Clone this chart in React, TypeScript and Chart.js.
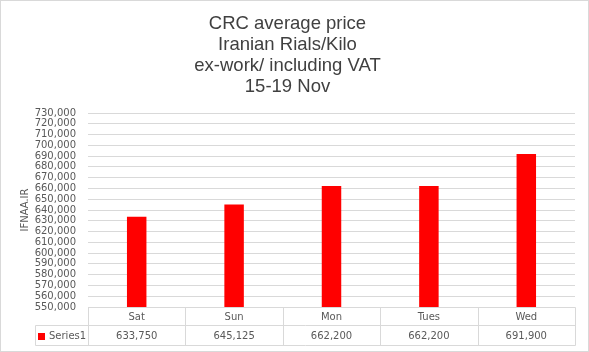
import React, { useEffect, useRef } from 'react';
import { Chart, registerables } from 'chart.js';

Chart.register(...registerables);

const titleLines = ['CRC average price', 'Iranian Rials/Kilo', 'ex-work/ including VAT', '15-19 Nov'];
const categories = ['Sat', 'Sun', 'Mon', 'Tues', 'Wed'];
const seriesName = 'Series1';
const series1Values = [633750, 645125, 662200, 662200, 691900];
const yAxisTitle = 'IFNAA.IR';
const yMin = 550000;
const yMax = 730000;
const yStep = 10000;

const fmt = (v: number) => Number(v).toLocaleString('en-US');

const TICK_FONT = 'DejaVu Sans';
const GRID = '#d9d9d9';
const TEXT = '#595959';
const BAR = '#ff0000';

const tablePlugin = {
  id: 'dataTable',
  beforeDraw(chart: any) {
    const ctx = chart.ctx;
    ctx.save();
    ctx.fillStyle = '#ffffff';
    ctx.fillRect(0, 0, chart.width, chart.height);
    ctx.strokeStyle = GRID;
    ctx.lineWidth = 1;
    ctx.strokeRect(0.5, 0.5, chart.width - 1, chart.height - 1);
    ctx.restore();
  },
  afterDraw(chart: any) {
    const { ctx, chartArea } = chart;
    const xs = chart.scales.x;
    const n = chart.data.labels.length;
    const left = chartArea.left;
    const right = chartArea.right;
    const colW = (right - left) / n;
    const top = Math.round(chartArea.bottom) + 0.5;
    const mid = top + 18;
    const bot = top + 38;
    const legLeft = 35.5;
    const L = (x: number) => Math.round(x) + 0.5;

    ctx.save();
    ctx.strokeStyle = GRID;
    ctx.lineWidth = 1;
    ctx.beginPath();
    ctx.moveTo(L(left), top);
    ctx.lineTo(L(right), top);
    ctx.moveTo(legLeft, mid);
    ctx.lineTo(L(right), mid);
    ctx.moveTo(legLeft, bot);
    ctx.lineTo(L(right), bot);
    ctx.moveTo(legLeft, mid);
    ctx.lineTo(legLeft, bot);
    for (let i = 0; i <= n; i++) {
      const x = L(left + i * colW);
      ctx.moveTo(x, top);
      ctx.lineTo(x, bot);
    }
    ctx.stroke();

    ctx.fillStyle = TEXT;
    ctx.font = `10px "${TICK_FONT}"`;
    ctx.textAlign = 'center';
    ctx.textBaseline = 'middle';
    const ds = chart.data.datasets[0];
    for (let i = 0; i < n; i++) {
      const cx = xs.getPixelForValue(i);
      ctx.fillText(String(chart.data.labels[i]), cx, (top + mid) / 2 + 1);
      ctx.fillText(fmt(ds.data[i]), cx, (mid + bot) / 2 + 1);
    }
    ctx.fillStyle = BAR;
    ctx.fillRect(38, Math.round((mid + bot) / 2) - 3, 7, 7);
    ctx.fillStyle = TEXT;
    ctx.textAlign = 'left';
    ctx.fillText(ds.label, 49, (mid + bot) / 2 + 1);
    ctx.restore();
  },
};

export default function App() {
  const ref = useRef<HTMLCanvasElement | null>(null);

  useEffect(() => {
    if (!ref.current) return;
    const chart = new Chart(ref.current, {
      type: 'bar',
      data: {
        labels: categories,
        datasets: [
          {
            label: seriesName,
            data: series1Values,
            backgroundColor: BAR,
            borderWidth: 0,
            categoryPercentage: 1,
            barPercentage: 0.2,
          },
        ],
      },
      options: {
        responsive: false,
        animation: false,
        devicePixelRatio: 1,
        layout: { padding: { left: 0, right: 14, top: 0, bottom: 0 } },
        plugins: {
          legend: { display: false },
          tooltip: { enabled: false },
          title: {
            display: true,
            text: titleLines,
            color: '#404040',
            font: { family: 'Liberation Sans', size: 18.5, weight: 'normal', lineHeight: 20.9 / 18.5 },
            padding: { top: 13.5, bottom: 15.9 },
          },
        },
        scales: {
          x: {
            grid: { display: false },
            border: { display: false },
            ticks: { display: false },
            afterFit: (s: any) => {
              s.height = 45;
            },
          },
          y: {
            min: yMin,
            max: yMax,
            grid: { color: GRID, drawTicks: false },
            border: { display: false },
            ticks: {
              stepSize: yStep,
              autoSkip: false,
              padding: 12,
              color: TEXT,
              font: { family: TICK_FONT, size: 10 },
              callback: (v: any) => fmt(v),
            },
            title: {
              display: true,
              text: yAxisTitle,
              color: TEXT,
              font: { family: TICK_FONT, size: 10 },
              padding: { top: 19, bottom: 0 },
            },
            afterFit: (s: any) => {
              s.width = 88;
            },
          },
        },
      },
      plugins: [tablePlugin],
    });
    return () => chart.destroy();
  }, []);

  return (
    <div style={{ position: 'absolute', left: 0, top: 0, width: 589, height: 352 }}>
      <canvas ref={ref} width={589} height={352} style={{ display: 'block', width: 589, height: 352 }} />
    </div>
  );
}
